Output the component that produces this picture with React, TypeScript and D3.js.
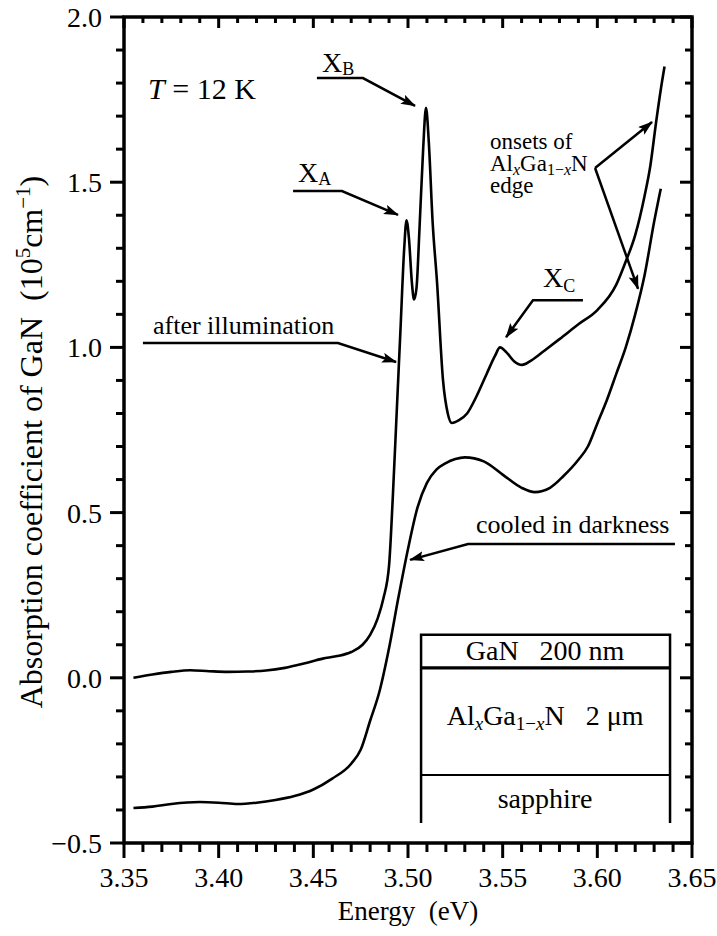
import React from "react";
import * as d3 from "d3";

// ---- data ----
const illumE = [3.355, 3.365, 3.375, 3.385, 3.395, 3.405, 3.415, 3.425, 3.435, 3.445, 3.455, 3.462, 3.47, 3.476, 3.48, 3.484, 3.487, 3.49, 3.492, 3.494, 3.496, 3.498, 3.4992, 3.5005, 3.502, 3.5032, 3.5045, 3.506, 3.508, 3.5095, 3.511, 3.513, 3.5153, 3.5185, 3.521, 3.5232, 3.527, 3.5312, 3.536, 3.5417, 3.546, 3.5486, 3.552, 3.556, 3.5602, 3.565, 3.572, 3.58, 3.59, 3.6, 3.61, 3.615, 3.62, 3.625, 3.628, 3.631, 3.6335, 3.6355];
const illumV = [0.0, 0.01, 0.018, 0.023, 0.02, 0.018, 0.019, 0.022, 0.03, 0.043, 0.058, 0.065, 0.078, 0.1, 0.13, 0.18, 0.24, 0.34, 0.55, 0.8, 1.05, 1.3, 1.385, 1.33, 1.2, 1.145, 1.18, 1.35, 1.6, 1.725, 1.62, 1.38, 1.2, 0.9, 0.8, 0.771, 0.78, 0.8, 0.85, 0.922, 0.975, 1.0, 0.985, 0.958, 0.947, 0.96, 0.99, 1.025, 1.07, 1.113, 1.19, 1.26, 1.34, 1.46, 1.55, 1.68, 1.78, 1.85];

const darkE = [3.355, 3.365, 3.375, 3.39, 3.4, 3.41, 3.42, 3.43, 3.44, 3.45, 3.46, 3.47, 3.475, 3.48, 3.485, 3.49, 3.495, 3.5, 3.505, 3.51, 3.515, 3.52, 3.525, 3.53, 3.54, 3.55, 3.56, 3.567, 3.575, 3.582, 3.59, 3.595, 3.6, 3.605, 3.61, 3.615, 3.62, 3.625, 3.63, 3.6335];
const darkV = [-0.394, -0.39, -0.382, -0.376, -0.378, -0.382, -0.378, -0.37, -0.358, -0.338, -0.305, -0.26, -0.218, -0.13, -0.04, 0.09, 0.245, 0.39, 0.515, 0.59, 0.63, 0.65, 0.662, 0.667, 0.655, 0.615, 0.575, 0.562, 0.575, 0.61, 0.66, 0.7, 0.77, 0.84, 0.92, 1.0, 1.1, 1.22, 1.38, 1.48];

const xMajorTicks = [3.35, 3.4, 3.45, 3.5, 3.55, 3.6, 3.65];
const xTickLabels = ["3.35", "3.40", "3.45", "3.50", "3.55", "3.60", "3.65"];
const yMajorTicks = [-0.5, 0.0, 0.5, 1.0, 1.5, 2.0];
const yTickLabels = ["\u22120.5", "0.0", "0.5", "1.0", "1.5", "2.0"];

const FONT = "Liberation Serif, DejaVu Serif, serif";

const W = 717, H = 936;
const L = 124, R = 692, T = 17, B = 843;

export default function App() {
  const x = d3.scaleLinear().domain([3.35, 3.65]).range([L, R]);
  const y = d3.scaleLinear().domain([-0.5, 2.0]).range([B, T]);

  const line = d3.line<[number, number]>().x(d => x(d[0])).y(d => y(d[1])).curve(d3.curveMonotoneX);
  const illum = line(illumE.map((e, i) => [e, illumV[i]] as [number, number])) || "";
  const dark = line(darkE.map((e, i) => [e, darkV[i]] as [number, number])) || "";

  const xMinor = d3.range(0, 31).map(i => 3.35 + i * 0.01);
  const yMinor = d3.range(0, 26).map(i => -0.5 + i * 0.1);
  const isMajor = (v: number, step: number) => Math.abs(v / step - Math.round(v / step)) < 1e-6;

  const sw = 3;
  const curveW = 2.6;

  const leader = (pts: [number, number][]) => d3.line<[number, number]>().x(d => x(d[0])).y(d => y(d[1]))(pts) || "";

  return (
    <svg width={W} height={H} style={{ position: "absolute", left: 0, top: 0, background: "#fff", fontFamily: FONT }}>
      <defs>
        <marker id="arr" markerUnits="userSpaceOnUse" markerWidth="16" markerHeight="12" refX="14" refY="5" orient="auto">
          <path d="M0,0 L15,5 L0,10 L3,5 Z" fill="#000" />
        </marker>
      </defs>
      <rect x={0} y={0} width={W} height={H} fill="#fff" />

      <path d={illum} fill="none" stroke="#000" strokeWidth={curveW} strokeLinejoin="round" />
      <path d={dark} fill="none" stroke="#000" strokeWidth={curveW} strokeLinejoin="round" />

      {xMinor.map((v, i) => {
        const maj = isMajor(v - 3.35, 0.05);
        return (
          <g key={"xt" + i}>
            <line x1={x(v)} x2={x(v)} y1={B} y2={B + (maj ? 15 : 9)} stroke="#000" strokeWidth={sw} />
            <line x1={x(v)} x2={x(v)} y1={T} y2={T + (maj ? 11 : 6)} stroke="#000" strokeWidth={sw} />
          </g>
        );
      })}
      {yMinor.map((v, i) => {
        const maj = isMajor(v, 0.5);
        return (
          <g key={"yt" + i}>
            <line x1={L} x2={L - (maj ? 14 : 8)} y1={y(v)} y2={y(v)} stroke="#000" strokeWidth={sw} />
            <line x1={R} x2={R - (maj ? 12 : 7)} y1={y(v)} y2={y(v)} stroke="#000" strokeWidth={sw} />
          </g>
        );
      })}

      <rect x={L} y={T} width={R - L} height={B - T} fill="none" stroke="#000" strokeWidth={sw + 0.5} />

      {xMajorTicks.map((v, i) => (
        <text key={"xl" + i} x={x(v)} y={B + 44} fontSize={28} textAnchor="middle">{xTickLabels[i]}</text>
      ))}
      {yMajorTicks.map((v, i) => (
        <text key={"yl" + i} x={L - 22} y={y(v) + 10} fontSize={28} textAnchor="end">{yTickLabels[i]}</text>
      ))}

      <text x={408} y={920} fontSize={27} textAnchor="middle" style={{ whiteSpace: "pre" }}>Energy  (eV)</text>
      <text transform={`translate(42, 442) rotate(-90)`} fontSize={32} textAnchor="middle" style={{ whiteSpace: "pre" }}>
        Absorption coefficient of GaN  (10<tspan dy={-12} fontSize={21}>5</tspan><tspan dy={12}>cm</tspan><tspan dy={-12} fontSize={21}>{"\u22121"}</tspan><tspan dy={12}>)</tspan>
      </text>

      <text x={x(3.3627)} y={y(1.752)} fontSize={30} style={{ whiteSpace: "pre" }}>
        <tspan fontStyle="italic">T</tspan>{" = 12 K"}
      </text>

      <text x={x(3.4546)} y={y(1.834)} fontSize={28}>X<tspan dy={3} fontSize={18}>B</tspan></text>
      <path d={leader([[3.4519, 1.815], [3.4762, 1.815], [3.5037, 1.731]])} fill="none" stroke="#000" strokeWidth={2.5} markerEnd="url(#arr)" />

      <text x={x(3.4419)} y={y(1.501)} fontSize={28}>X<tspan dy={3} fontSize={18}>A</tspan></text>
      <path d={leader([[3.4393, 1.473], [3.4651, 1.473], [3.4947, 1.401]])} fill="none" stroke="#000" strokeWidth={2.5} markerEnd="url(#arr)" />

      <text x={x(3.3653)} y={y(1.041)} fontSize={26}>after illumination</text>
      <path d={leader([[3.36, 1.013], [3.463, 1.013], [3.4937, 0.956]])} fill="none" stroke="#000" strokeWidth={2.5} markerEnd="url(#arr)" />

      <text x={x(3.5713)} y={y(1.183)} fontSize={28}>X<tspan dy={5} fontSize={18}>C</tspan></text>
      <path d={leader([[3.5924, 1.143], [3.566, 1.143], [3.5518, 1.031]])} fill="none" stroke="#000" strokeWidth={2.5} markerEnd="url(#arr)" />

      <text x={x(3.5359)} y={y(0.438)} fontSize={26}>cooled in darkness</text>
      <path d={leader([[3.641, 0.405], [3.5317, 0.405], [3.5011, 0.357]])} fill="none" stroke="#000" strokeWidth={2.5} markerEnd="url(#arr)" />

      <text x={x(3.5433)} y={y(1.6)} fontSize={23}>onsets of</text>
      <text x={x(3.5433)} y={y(1.534)} fontSize={23}>Al<tspan dy={4} fontSize={16} fontStyle="italic">x</tspan><tspan dy={-4}>Ga</tspan><tspan dy={4} fontSize={16}>1{"\u2212"}</tspan><tspan fontSize={16} fontStyle="italic">x</tspan><tspan dy={-4}>N</tspan></text>
      <text x={x(3.5433)} y={y(1.468)} fontSize={23}>edge</text>
      <path d={leader([[3.5988, 1.543], [3.6289, 1.682]])} fill="none" stroke="#000" strokeWidth={2.5} markerEnd="url(#arr)" />
      <path d={leader([[3.5988, 1.543], [3.6215, 1.177]])} fill="none" stroke="#000" strokeWidth={2.5} markerEnd="url(#arr)" />

      <g fill="none" stroke="#000">
        <path d={leader([[3.5069, -0.4395], [3.5069, 0.13], [3.6384, 0.13], [3.6384, -0.4395]])} strokeWidth={2.5} />
        <line x1={x(3.5069)} x2={x(3.6384)} y1={y(0.03)} y2={y(0.03)} strokeWidth={3.2} />
        <line x1={x(3.5069)} x2={x(3.6384)} y1={y(-0.294)} y2={y(-0.294)} strokeWidth={2} />
      </g>
      <text x={x(3.5724)} y={y(0.054)} fontSize={28} textAnchor="middle" style={{ whiteSpace: "pre" }}>GaN   200 nm</text>
      <text x={x(3.5724)} y={y(-0.143)} fontSize={28} textAnchor="middle" style={{ whiteSpace: "pre" }}>
        Al<tspan dy={5} fontSize={19} fontStyle="italic">x</tspan><tspan dy={-5}>Ga</tspan><tspan dy={5} fontSize={19}>1{"\u2212"}</tspan><tspan fontSize={19} fontStyle="italic">x</tspan><tspan dy={-5}>N   2 μm</tspan>
      </text>
      <text x={x(3.5724)} y={y(-0.394)} fontSize={28} textAnchor="middle">sapphire</text>
    </svg>
  );
}
